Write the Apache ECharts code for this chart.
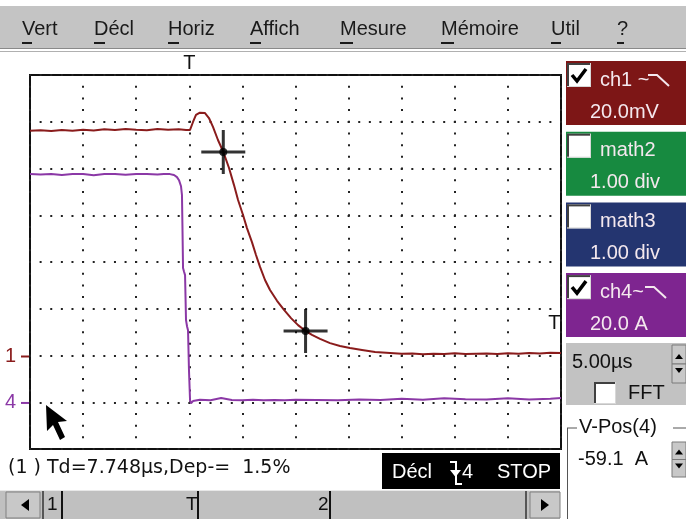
<!DOCTYPE html>
<html>
<head>
<meta charset="utf-8">
<script src="https://cdn.jsdelivr.net/npm/echarts@6/dist/echarts.min.js"></script>
<style>
html, body { margin: 0; padding: 0; background: #fff; }
#scope { width: 686px; height: 519px; }
</style>
</head>
<body>
<div id="scope"></div>
<script>
// ch1 : mV, ch4 : A, time in µs (trigger at 0)
var ch1Time = [-15,-14,-13,-12,-11,-10,-9,-8,-7,-6,-5,-4,-3,-2,-1,-0.3,0.07,
    0.35,0.63,1.0,1.48,1.85,2.23,2.70,3.2,3.74,4.21,4.59,5.06,5.43,5.90,6.28,6.66,7.13,7.60,
    8.26,8.92,9.58,10.24,10.95,11.55,12.31,13.25,14.19,15.13,16.26,17.49,18.9,
    20,21,22,23,24,25,26,27,28,29,30,31,32,33,34,35];
var ch1Mv = [96.1,96.4,96.0,96.5,96.2,96.6,96.3,96.8,96.5,96.9,96.6,96.4,96.9,96.6,96.8,96.5,96.5,
    99.9,102.9,103.9,103.7,101.6,97.8,92.2,87.1,80.2,72.9,66.5,60.1,54.5,48.5,43.0,37.9,32.3,28.0,
    23.4,19.5,16.0,13.0,10.5,8.8,7.1,5.3,4.1,3.2,2.4,1.5,1.1,
    0.7,0.9,0.5,0.8,0.6,1.0,0.6,0.8,0.9,0.6,1.0,0.8,1.1,0.9,1.2,1.1];

var ch4Time = [-15,-14,-13,-12,-11,-10,-9,-8,-7,-6,-5,-4,-3,
    -2.4,-1.82,-1.44,-1.16,-0.97,-0.78,-0.69,-0.64,-0.59,-0.50,-0.40,-0.31,-0.21,-0.12,-0.03,0.07,0.16,0.35,
    1,2,3,4,5,6,7,8,9,10,12,14,16,18,20,22,24,26,28,30,32,34,35];
var ch4Amp = [96.7,96.5,96.7,96.3,96.7,96.7,96.2,96.7,96.7,96.4,96.7,96.7,96.5,
    96.7,96.7,96.3,95.4,94.1,91.5,87.7,72.7,56.5,55.0,53.5,34.2,31.5,29.9,12.8,0,-1.3,-0.4,
    0.2,0,0.9,0.1,0,0.2,0,0.1,0,0.2,0.1,0,0.3,0.1,0.6,0.2,0.8,0.4,0.3,0.8,0.3,0.6,0.9];

var cursorTime = [3.2, 10.948];
var cursorMv = [87.1, 10.5];
var trigLevelA = 33;

var menuItems = ['Vert', 'Décl', 'Horiz', 'Affich', 'Mesure', 'Mémoire', 'Util', '?'];
var menuX = [22, 94, 168, 250, 340, 441, 551, 617];
var menuUl = [10, 11, 11, 11, 13, 13, 10, 7];

var channels = [
    {name: 'ch1', scale: '20.0mV', color: '#7d1616', on: true, icon: true},
    {name: 'math2', scale: '1.00 div', color: '#178a40', on: false},
    {name: 'math3', scale: '1.00 div', color: '#243570', on: false},
    {name: 'ch4', scale: '20.0 A', color: '#7e2590', on: true, icon: true}
];
var timeBase = '5.00µs';
var vPosText = '-59.1  A';
var measureText = '(1 ) Td=7.748µs,Dep-=  1.5%';

function pairs(xs, ys) {
    return xs.map(function (x, i) { return [x, ys[i]]; });
}

var ui = '"Liberation Sans", Arial, sans-serif';
function txt(x, y, s, size, color, align, family) {
    return {type: 'text', x: x, y: y, z: 60, style: {text: s, fontSize: size, fontFamily: family || ui,
        fill: color || '#111', textAlign: align || 'left', textVerticalAlign: 'middle'}};
}
function rect(x, y, w, h, fill, stroke, lw) {
    return {type: 'rect', z: 50, shape: {x: x, y: y, width: w, height: h},
        style: {fill: fill, stroke: stroke || null, lineWidth: lw || 0}};
}
function seg(x1, y1, x2, y2, color, w) {
    return {type: 'line', z: 55, shape: {x1: x1, y1: y1, x2: x2, y2: y2},
        style: {stroke: color || '#000', lineWidth: w || 1}};
}
function poly(points, fill) {
    return {type: 'polygon', z: 56, shape: {points: points}, style: {fill: fill || '#000'}};
}
function pline(points, color, w) {
    return {type: 'polyline', z: 56, shape: {points: points}, style: {stroke: color, lineWidth: w, fill: null}};
}
function checkbox(x, y, s, checked) {
    var g = [rect(x, y, s, s, '#fff'),
        seg(x, y + 1, x + s, y + 1, '#404040', 2), seg(x + 1, y, x + 1, y + s, '#404040', 2),
        seg(x, y + s - 0.5, x + s, y + s - 0.5, '#d8d8d8', 1), seg(x + s - 0.5, y, x + s - 0.5, y + s, '#d8d8d8', 1)];
    if (checked) g.push(pline([[x + 5, y + 12], [x + 10, y + 18], [x + 19, y + 6]], '#000', 3.5));
    return g;
}
function spinner(x, y, h) {
    var hh = h / 2;
    return [rect(x, y, 14, hh, '#c8c8c8', '#7a7a7a', 1), rect(x, y + hh, 14, hh, '#c8c8c8', '#7a7a7a', 1),
        poly([[x + 3, y + hh - 5], [x + 11, y + hh - 5], [x + 7, y + hh - 10]]),
        poly([[x + 3, y + hh + 4], [x + 11, y + hh + 4], [x + 7, y + hh + 9]])];
}

var g = [];
// menu bar
g.push(rect(0, 6, 686, 42, '#c4c4c4'));
g.push(seg(0, 48.5, 686, 48.5, '#8a8a8a', 1));
g.push(seg(0, 51.5, 686, 51.5, '#b0b0b0', 1));
menuItems.forEach(function (m, i) {
    g.push(txt(menuX[i], 29, m, 20, '#1a1a1a'));
    g.push(seg(menuX[i], 43, menuX[i] + menuUl[i], 43, '#1a1a1a', 2));
});
// channel boxes
channels.forEach(function (c, i) {
    var y = 61 + i * 70.7;
    g.push(rect(566, y, 120, 64, c.color));
    g = g.concat(checkbox(567, y + 2, 24, c.on));
    g.push(txt(600, y + 19, c.name + (c.icon ? (c.name === 'ch1' ? ' ~' : '~') : ''), 20, '#f4e8ee'));
    if (c.icon) {
        var ix = c.name === 'ch1' ? 648 : 645;
        g.push(pline([[ix, y + 14], [ix + 9, y + 14], [ix + 21, y + 25]], '#f4e8ee', 2));
    }
    g.push(txt(590, y + 51, c.scale, 20, '#f4e8ee'));
});
// time base panel
g.push(rect(566, 343, 120, 62, '#c2c2c2'));
g.push(txt(572, 362, timeBase, 20, '#111'));
g = g.concat(spinner(672, 345, 38));
g = g.concat(checkbox(594, 382, 22, false));
g.push(txt(628, 393, 'FFT', 20, '#111'));
// V-Pos group
g.push(seg(567, 428, 577, 428, '#555', 1));
g.push(seg(673, 428, 686, 428, '#555', 1));
g.push(seg(567.5, 428, 567.5, 519, '#555', 1));
g.push(txt(579, 427, 'V-Pos(4)', 20, '#111'));
g.push(txt(578, 459, vPosText, 20, '#111'));
g = g.concat(spinner(672, 442, 35));
// measurement line + trigger status
g.push(txt(8, 468, measureText, 19, '#111', 'left', '"DejaVu Sans", sans-serif'));
g.push(rect(382, 453, 178, 36, '#000'));
g.push(txt(392, 472, 'Décl', 20, '#fff'));
g.push(pline([[450, 462], [456, 462], [456, 484], [462, 484]], '#fff', 2));
g.push(poly([[450, 470], [461, 470], [455.5, 477]], '#fff'));
g.push(txt(462, 472, '4', 20, '#fff'));
g.push(txt(497, 472, 'STOP', 20, '#fff'));
// scroll bar
g.push(rect(0, 490, 560, 29, '#c0c0c0'));
g.push(seg(0, 490.5, 560, 490.5, '#e8e8e8', 1));
g.push(rect(6, 492, 34, 26, '#c8c8c8', '#808080', 1));
g.push(poly([[21, 505], [29, 499], [29, 511]]));
g.push(seg(43, 491, 43, 519, '#333', 1.5));
g.push(txt(47, 505, '1', 19, '#111'));
g.push(seg(62, 491, 62, 519, '#111', 2));
g.push(txt(186, 505, 'T', 19, '#111'));
g.push(seg(198, 491, 198, 519, '#111', 2));
g.push(txt(318, 505, '2', 19, '#111'));
g.push(seg(330, 491, 330, 519, '#111', 2));
g.push(seg(526, 491, 526, 519, '#333', 1.5));
g.push(rect(530, 492, 30, 26, '#c8c8c8', '#808080', 1));
g.push(poly([[549, 505], [541, 499], [541, 511]]));
// mouse pointer
g.push(poly([[46, 405], [47, 431], [53, 425], [60, 440], [65, 437], [58, 422], [67, 421]], '#000'));

var chart = echarts.init(document.getElementById('scope'));
var dotColor = '#222';
chart.setOption({
    animation: false,
    backgroundColor: '#fff',
    grid: {left: 30, top: 75, width: 531, height: 374, show: true,
        borderColor: '#111', borderWidth: 2, backgroundColor: '#fff'},
    xAxis: {type: 'value', min: -15, max: 35, interval: 5,
        axisLine: {show: false}, axisTick: {show: false}, axisLabel: {show: false},
        splitLine: {show: true, lineStyle: {color: dotColor, width: 2, type: [2, 9.6875], dashOffset: 1}}},
    yAxis: [
        {type: 'value', min: -40, max: 120, interval: 20,
            axisLine: {show: false}, axisTick: {show: false}, axisLabel: {show: false},
            splitLine: {show: true, lineStyle: {color: dotColor, width: 2, type: [2, 8.62], dashOffset: 1}}},
        {type: 'value', min: -20.9, max: 139.1, show: false, splitLine: {show: false}}
    ],
    series: [
        {type: 'line', name: 'ch1', yAxisIndex: 0, data: pairs(ch1Time, ch1Mv), showSymbol: false,
            color: '#8a1c1c', lineStyle: {width: 2}, z: 3, silent: true,
            markPoint: {silent: true, data: [
                {coord: [0, 120], symbol: 'rect', symbolSize: 1, itemStyle: {color: 'rgba(0,0,0,0)'},
                    label: {show: true, formatter: 'T', position: 'top', distance: 1, color: '#111', fontSize: 20, fontFamily: ui}},
                {coord: [-15, 0], symbol: 'rect', symbolSize: [8, 2], symbolOffset: [-5, 1], itemStyle: {color: '#8a1c1c'},
                    label: {show: true, formatter: '1', position: 'left', distance: 5, color: '#8a1c1c', fontSize: 20, fontFamily: ui}}
            ]}},
        {type: 'line', name: 'ch4', yAxisIndex: 1, data: pairs(ch4Time, ch4Amp), showSymbol: false,
            color: '#8b38a6', lineStyle: {width: 2}, z: 3, silent: true,
            markPoint: {silent: true, data: [
                {coord: [-15, -1.2], symbol: 'rect', symbolSize: [8, 2], symbolOffset: [-5, 0], itemStyle: {color: '#8b38a6'},
                    label: {show: true, formatter: '4', position: 'left', distance: 5, color: '#8b38a6', fontSize: 20, fontFamily: ui}},
                {coord: [35, trigLevelA], symbol: 'rect', symbolSize: 1, itemStyle: {color: 'rgba(0,0,0,0)'},
                    label: {show: true, formatter: 'T', position: 'left', distance: 0, color: '#111', fontSize: 20, fontFamily: ui}}
            ]}},
        {type: 'scatter', yAxisIndex: 0, data: pairs(cursorTime, cursorMv), silent: true, z: 5,
            symbol: 'path://M0,20.5H44V23.5H0Z M20.5,0H23.5V44H20.5Z', symbolSize: 44, itemStyle: {color: '#000'}},
        {type: 'scatter', yAxisIndex: 0, data: pairs(cursorTime, cursorMv), silent: true, z: 6,
            symbol: 'circle', symbolSize: 8, itemStyle: {color: '#000'}}
    ],
    graphic: g
});
</script>
</body>
</html>
